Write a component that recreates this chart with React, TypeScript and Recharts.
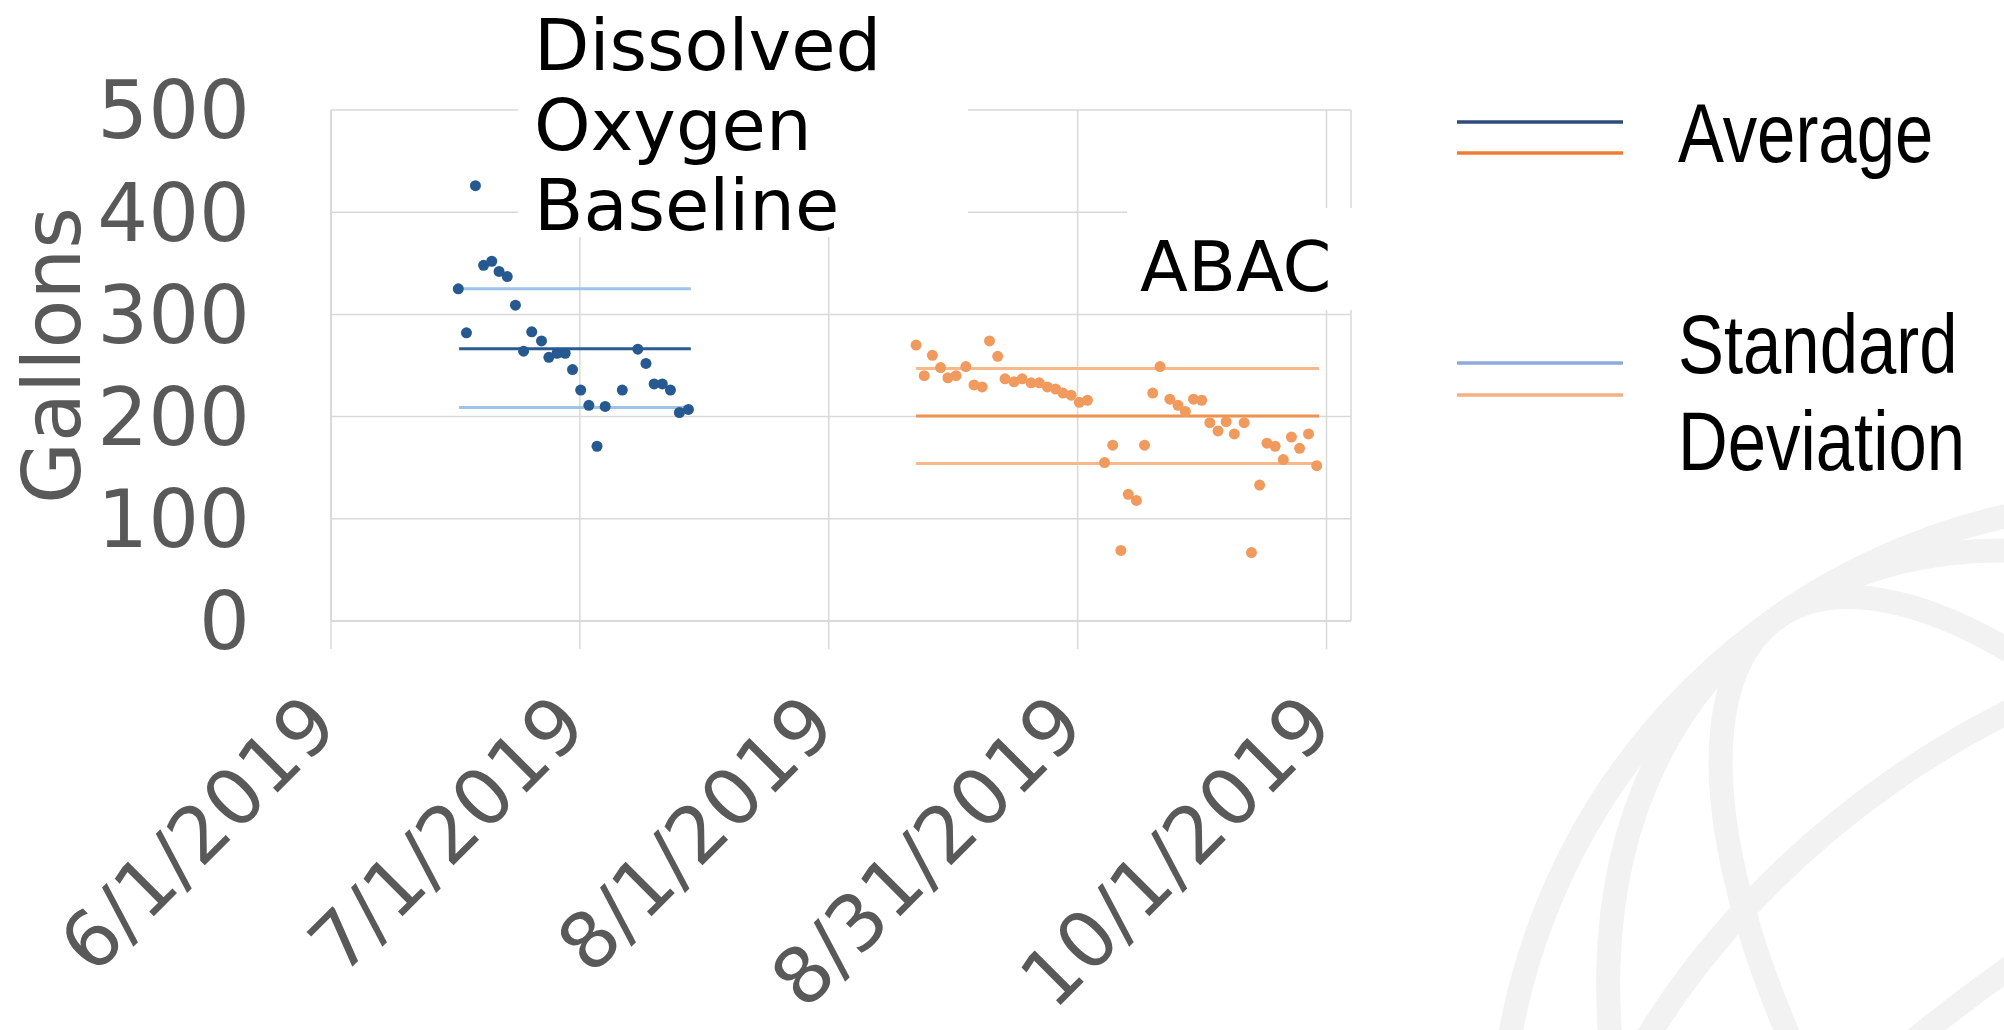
import React from "react";
import { ScatterChart, Scatter, XAxis, YAxis, CartesianGrid, ReferenceLine } from "recharts";

// x axis: day of year 2019, major unit of 30.5 days
const tickDays = [152, 182.5, 213, 243.5, 274];
const tickLabels = ["6/1/2019", "7/1/2019", "8/1/2019", "8/31/2019", "10/1/2019"];
const yTicks = [0, 100, 200, 300, 400, 500];

// Dissolved Oxygen Baseline
const baselineDays = [
  167.6, 168.6, 169.7, 170.7, 171.7, 172.6, 173.6, 174.6, 175.6, 176.6, 177.8, 178.7, 179.7, 180.7,
  181.6, 182.6, 183.6, 184.6, 185.6, 187.7, 189.6, 190.6, 191.6, 192.6, 193.6, 194.7, 195.8,
];
const baselineGallons = [
  325, 282, 426, 348, 352, 342, 337, 309, 264, 283, 274, 258, 262, 262,
  246, 226, 211, 171, 210, 226, 266, 252, 232, 232, 226, 204, 207,
];

// ABAC
const abacDays = [
  223.7, 224.7, 225.7, 226.7, 227.6, 228.6, 229.8, 230.8, 231.8, 232.7, 233.7, 234.6, 235.7, 236.7,
  237.8, 238.8, 239.8, 240.8, 241.7, 242.7, 243.7, 244.7, 246.8, 247.8, 248.8, 249.7, 250.7, 251.7,
  252.7, 253.6, 254.8, 255.8, 256.7, 257.7, 258.7, 259.7, 260.7, 261.7, 262.7, 263.9, 264.8, 265.8,
  266.7, 267.7, 268.7, 269.7, 270.7, 271.8, 272.8,
];
const abacGallons = [
  270, 240, 260, 248, 238, 240, 249, 231, 229, 274, 259, 237, 234, 237,
  233, 233, 229, 227, 223, 221, 214, 216, 155, 172, 69, 124, 118, 172,
  223, 249, 217, 211, 205, 217, 216, 194, 186, 195, 183, 194, 67, 133,
  174, 171, 158, 180, 169, 183, 152,
];

// average, +1 sd, -1 sd, and the date span the lines cover
const baselineStats = [266.5, 325, 209];
const baselineSpan = [167.7, 196.1];
const abacStats = [200.6, 247, 154];
const abacSpan = [223.7, 273.1];

const baselineData = baselineDays.map((d, i) => ({ day: d, gallons: baselineGallons[i] }));
const abacData = abacDays.map((d, i) => ({ day: d, gallons: abacGallons[i] }));

const GRID = "#d9d9d9";
const LABEL = "#595959";

const DateTick = (props: any) => {
  const { x, y, payload } = props;
  const i = tickDays.indexOf(payload.value);
  return (
    <g transform={`translate(${x + 10},${y + 78}) rotate(-45)`}>
      <text textAnchor="end" fontFamily="DejaVu Sans" fontSize={78} fill={LABEL}>
        {tickLabels[i]}
      </text>
    </g>
  );
};

const GallonsLabel = (props: any) => {
  const { viewBox } = props;
  const cx = viewBox.x + 80;
  const cy = viewBox.y + viewBox.height / 2 - 10;
  return (
    <text x={cx} y={cy} transform={`rotate(-90, ${cx}, ${cy})`} textAnchor="middle"
      fontFamily="DejaVu Sans" fontSize={80} fill={LABEL}>
      Gallons
    </text>
  );
};

const dot = (color: string) => (p: any) => <circle cx={p.cx} cy={p.cy} r={5.5} fill={color} />;

const segment = (span: number[], v: number) => [{ x: span[0], y: v }, { x: span[1], y: v }];

export default function App() {
  return (
    <div style={{ position: "absolute", left: 0, top: 0, width: 2004, height: 1030, background: "#fff", overflow: "hidden" }}>
      <svg width={2004} height={1030} style={{ position: "absolute", left: 0, top: 0 }}>
        <g fill="none" stroke="#f2f2f2" strokeWidth={24}>
          <circle cx={2150} cy={1150} r={650} />
          <ellipse cx={2150} cy={1150} rx={260} ry={650} transform="rotate(-35, 2150, 1150)" />
          <ellipse cx={2150} cy={1150} rx={480} ry={650} transform="rotate(-35, 2150, 1150)" />
          <ellipse cx={2150} cy={1150} rx={650} ry={230} transform="rotate(-35, 2150, 1150)" />
          <ellipse cx={2150} cy={1150} rx={650} ry={450} transform="rotate(-35, 2150, 1150)" />
        </g>
      </svg>
      <div style={{ position: "absolute", left: 0, top: 0 }}>
        <ScatterChart width={2004} height={1030} margin={{ top: 110, right: 653, bottom: 0, left: 0 }}>
          <CartesianGrid stroke={GRID} strokeWidth={1.5} />
          <XAxis
            type="number"
            dataKey="day"
            domain={[152, 277]}
            ticks={tickDays}
            interval={0}
            height={409}
            tickSize={28}
            tickLine={{ stroke: GRID, strokeWidth: 1.5 }}
            axisLine={{ stroke: GRID, strokeWidth: 2 }}
            tick={<DateTick />}
            allowDataOverflow
          />
          <YAxis
            type="number"
            dataKey="gallons"
            domain={[0, 500]}
            ticks={yTicks}
            width={331}
            tickLine={false}
            tickSize={0}
            tickMargin={81}
            axisLine={{ stroke: GRID, strokeWidth: 2 }}
            tick={{ fontFamily: "DejaVu Sans", fontSize: 80, fill: LABEL }}
            label={<GallonsLabel />}
          />
          <ReferenceLine segment={segment(baselineSpan, baselineStats[1])} stroke="#9dc3e6" strokeWidth={3} />
          <ReferenceLine segment={segment(baselineSpan, baselineStats[2])} stroke="#9dc3e6" strokeWidth={3} />
          <ReferenceLine segment={segment(baselineSpan, baselineStats[0])} stroke="#2a5b8f" strokeWidth={3} />
          <ReferenceLine segment={segment(abacSpan, abacStats[1])} stroke="#f6b98e" strokeWidth={3} />
          <ReferenceLine segment={segment(abacSpan, abacStats[2])} stroke="#f6b98e" strokeWidth={3} />
          <ReferenceLine segment={segment(abacSpan, abacStats[0])} stroke="#f0914f" strokeWidth={3} />
          <Scatter name="Dissolved Oxygen Baseline" data={baselineData} fill="#26598f" shape={dot("#26598f")} isAnimationActive={false} />
          <Scatter name="ABAC" data={abacData} fill="#f19a5e" shape={dot("#f19a5e")} isAnimationActive={false} />
        </ScatterChart>
      </div>
      <svg width={2004} height={1030} style={{ position: "absolute", left: 0, top: 0, pointerEvents: "none" }}>
        {/* text boxes sit over the gridlines */}
        <rect x={518} y={0} width={450} height={237} fill="#fff" />
        <g fontFamily="DejaVu Sans" fontSize={72} fill="#000">
          <text x={534} y={70}>Dissolved</text>
          <text x={534} y={150}>Oxygen</text>
          <text x={534} y={230}>Baseline</text>
        </g>
        <rect x={1127} y={208} width={240} height={102} fill="#fff" />
        <text x={1140} y={291} fontFamily="DejaVu Sans" fontSize={70} fill="#000">ABAC</text>

        {/* legend */}
        <line x1={1457} x2={1623} y1={122} y2={122} stroke="#2f4b7c" strokeWidth={3.5} />
        <line x1={1457} x2={1623} y1={153} y2={153} stroke="#ed7d31" strokeWidth={3.5} />
        <line x1={1457} x2={1623} y1={363} y2={363} stroke="#8faadc" strokeWidth={3.5} />
        <line x1={1457} x2={1623} y1={395} y2={395} stroke="#f4b183" strokeWidth={3.5} />
        <g fontFamily="Liberation Sans" fontSize={84} fill="#000">
          <text transform="translate(1678,162) scale(0.82,1)">Average</text>
          <text transform="translate(1678,373) scale(0.82,1)">Standard</text>
          <text transform="translate(1678,470) scale(0.82,1)">Deviation</text>
        </g>
      </svg>
    </div>
  );
}
